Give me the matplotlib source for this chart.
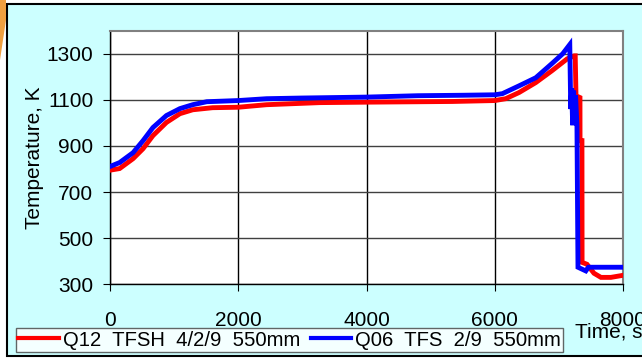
import matplotlib.pyplot as plt
from matplotlib.patches import Rectangle, Polygon

plt.rcParams['font.family'] = ['Liberation Sans', 'DejaVu Sans']

# Q12 TFSH 4/2/9 550mm (red)
t_q12 = [0, 150, 360, 515, 670, 880, 1090, 1290, 1600, 2000, 2440, 3270, 4000,
         5340, 6000, 6170, 6380, 6640, 6890, 7130, 7240, 7255, 7267, 7329, 7330,
         7360, 7362, 7438, 7547, 7656, 7811, 8000]
T_q12 = [795, 802, 845, 888, 945, 1002, 1040, 1057, 1066, 1068, 1079, 1088, 1090,
         1093, 1097, 1105, 1132, 1175, 1226, 1278, 1291, 1291, 1118, 1110, 923,
         923, 395, 387, 348, 330, 330, 339]

# Q06 TFS 2/9 550mm (blue)
t_q06 = [0, 150, 360, 515, 670, 880, 1090, 1290, 1510, 2000, 2440, 3000, 4000,
         4800, 5500, 6000, 6120, 6380, 6640, 6890, 7060, 7170, 7185, 7200, 7215,
         7230, 7245, 7260, 7282, 7298, 7420, 7460, 8000]
T_q06 = [811, 828, 871, 923, 980, 1032, 1062, 1079, 1092, 1097, 1105, 1108, 1112,
         1118, 1120, 1122, 1127, 1161, 1196, 1257, 1300, 1340, 1060, 1150, 990,
         1140, 1000, 1120, 988, 374, 358, 374, 374]

x_ticks = [0, 2000, 4000, 6000, 8000]
y_ticks = [300, 500, 700, 900, 1100, 1300]

W, H = 642, 358
fig = plt.figure(figsize=(W / 100, H / 100), dpi=100, facecolor='white')

# slide background panel with black border
fig.patches.append(Rectangle((7 / W, 1 - 356 / H), 700 / W, 352 / H,
                             transform=fig.transFigure, facecolor='#ccffff',
                             edgecolor='black', linewidth=1.5, zorder=-2))
fig.patches.append(Polygon([(0, 1), (6 / W, 1), (6 / W, 1 - 20 / H), (0, 1 - 60 / H)],
                           closed=True, transform=fig.transFigure,
                           facecolor='#f0a040', edgecolor='none', zorder=-2))

ax = fig.add_axes([110 / W, 1 - 284.3 / H, 513 / W, 253.6 / H])
ax.set_facecolor('white')

ax.plot(t_q12, T_q12, color='#ff0000', lw=3.5, label='Q12  TFSH  4/2/9  550mm',
        solid_joinstyle='miter', zorder=3)
ax.plot(t_q06, T_q06, color='#0000ff', lw=3.5, label='Q06  TFS  2/9  550mm',
        solid_joinstyle='miter', zorder=3)

ax.set_xlim(0, 8000)
ax.set_ylim(300, 1400)
ax.set_xticks(x_ticks)
ax.set_yticks(y_ticks)
ax.tick_params(axis='x', labelsize=15, length=5, pad=14, direction='out', color='black')
ax.tick_params(axis='y', labelsize=15, length=5, pad=7, direction='out', color='black')

ax.grid(axis='y', color='#404040', lw=1)
ax.grid(axis='x', color='black', lw=1)

for s in ['top', 'right']:
    ax.spines[s].set_color('#808080')
    ax.spines[s].set_linewidth(1.5)
for s in ['left', 'bottom']:
    ax.spines[s].set_color('black')
    ax.spines[s].set_linewidth(1)

ax.set_ylabel('Temperature, K', fontsize=15, labelpad=2)

fig.text(575 / W, 1 - 322 / H, 'Time, s', fontsize=15, ha='left', va='top')

leg = ax.legend(loc='lower left', bbox_to_anchor=(16 / W, 6 / H),
                bbox_transform=fig.transFigure, ncol=2, fontsize=14.6,
                frameon=True, fancybox=False, borderaxespad=0, borderpad=0.12,
                handlelength=2.0, handletextpad=0.2, columnspacing=0.5)
leg.get_frame().set_edgecolor('#404040')
leg.get_frame().set_linewidth(1)
leg.get_frame().set_facecolor('white')
for line in leg.get_lines():
    line.set_linewidth(3)

fig.savefig('out.png', dpi=100)
